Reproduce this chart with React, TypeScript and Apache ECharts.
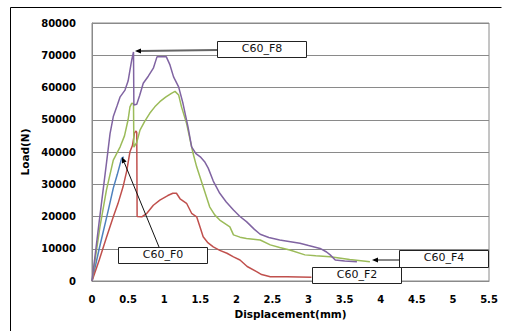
import React, { useEffect, useRef } from "react";
import * as echarts from "echarts";

const xTicks = [0, 0.5, 1, 1.5, 2, 2.5, 3, 3.5, 4, 4.5, 5, 5.5];
const yTicks = [0, 10000, 20000, 30000, 40000, 50000, 60000, 70000, 80000];

const seriesNames = ["C60_F0", "C60_F2", "C60_F4", "C60_F8"];
const seriesColors = ["#4F81BD", "#C0504D", "#9BBB59", "#8064A2"];

const f0: number[][] = [
  [0, 0], [0.1, 10000], [0.2, 19500], [0.226, 22000], [0.295, 28800], [0.35, 33000], [0.41, 38000], [0.44, 38500],
];

const f2: number[][] = [
  [0, 0], [0.1, 6500], [0.2, 13500], [0.295, 19900], [0.36, 24000], [0.43, 29200], [0.48, 34000], [0.526, 40100],
  [0.56, 42000], [0.59, 46000], [0.61, 46500], [0.62, 46000], [0.625, 20000], [0.69, 19900], [0.76, 21000],
  [0.85, 23500], [0.94, 25100], [1.05, 26500], [1.12, 27200], [1.17, 27200], [1.22, 25500], [1.31, 24100],
  [1.38, 21000], [1.45, 19900], [1.5, 16500], [1.54, 13700], [1.6, 12000], [1.68, 10600], [1.77, 9500],
  [1.87, 8600], [1.96, 7500], [2.05, 6500], [2.15, 4500], [2.28, 2900], [2.35, 2000], [2.47, 1300], [2.7, 1300],
  [3.04, 1200],
];

const f4: number[][] = [
  [0, 0], [0.11, 16800], [0.2, 28200], [0.295, 37500], [0.39, 41600], [0.45, 45000], [0.5, 50000], [0.526, 54000],
  [0.55, 55100], [0.575, 55000], [0.58, 41500], [0.62, 43000], [0.665, 46800], [0.73, 49500], [0.8, 52000],
  [0.87, 54000], [0.94, 55600], [1.02, 57000], [1.1, 58200], [1.15, 58800], [1.2, 57700], [1.24, 54000],
  [1.31, 48900], [1.36, 43700], [1.4, 39600], [1.45, 35400], [1.54, 29200], [1.63, 23000], [1.7, 20500],
  [1.77, 18900], [1.91, 16800], [1.96, 14300], [2.05, 13600], [2.14, 13200], [2.33, 12700], [2.47, 11200],
  [2.6, 10400], [2.74, 9600], [2.95, 8100], [3.1, 7800], [3.3, 7500], [3.57, 6700], [3.85, 6000],
];

const f8: number[][] = [
  [0, 0], [0.1, 18500], [0.2, 36500], [0.25, 45700], [0.295, 51000], [0.35, 54500], [0.39, 57100], [0.457, 59200],
  [0.5, 62000], [0.526, 65400], [0.55, 68500], [0.575, 71000], [0.58, 54600], [0.62, 54800], [0.66, 57500],
  [0.71, 61300], [0.78, 63500], [0.85, 66000], [0.9, 69500], [1.03, 69500], [1.08, 67000], [1.13, 63300],
  [1.2, 60200], [1.26, 55100], [1.33, 47800], [1.38, 41600], [1.44, 39500], [1.5, 38500], [1.56, 37000],
  [1.61, 35000], [1.68, 31000], [1.77, 27200], [1.86, 24500], [1.96, 22000], [2.05, 20000], [2.14, 18400],
  [2.25, 16000], [2.33, 14500], [2.45, 13500], [2.6, 12700], [2.75, 12200], [2.88, 11700], [3.0, 11000],
  [3.16, 10100], [3.25, 9000], [3.3, 8100], [3.37, 6500], [3.5, 6200], [3.67, 6000],
];

const seriesData = [f0, f2, f4, f8];

const xTitle = "Displacement(mm)";
const yTitle = "Load(N)";

export default function App() {
  const ref = useRef<HTMLDivElement>(null);
  useEffect(() => {
    if (!ref.current) return;
    const chart = echarts.init(ref.current, null, { renderer: "svg" });
    const labelFont = { fontFamily: "DejaVu Sans", fontWeight: "bold" as const, fontSize: 10, color: "#000" };

    const box = (x: number, y: number, w: number, h: number, text: string) => ({
      type: "group",
      z: 100,
      children: [
        { type: "rect", z: 100, shape: { x, y, width: w, height: h }, style: { fill: "#fff", stroke: "#222", lineWidth: 1 } },
        {
          type: "text",
          z: 101,
          x: x + w / 2,
          y: y + h / 2 - 1.5,
          style: { text, fill: "#111", font: "11px 'DejaVu Sans'", align: "center", verticalAlign: "middle" },
        },
      ],
    });
    const arrow = (x1: number, y1: number, x2: number, y2: number, color: string, lw: number) => {
      const ang = Math.atan2(y2 - y1, x2 - x1);
      const L = 6, W = 2.5;
      const bx = x2 - L * Math.cos(ang), by = y2 - L * Math.sin(ang);
      const px = -Math.sin(ang) * W, py = Math.cos(ang) * W;
      return [
        { type: "line", z: 99, shape: { x1, y1, x2: bx, y2: by }, style: { stroke: color, lineWidth: lw } },
        {
          type: "polygon",
          z: 99,
          shape: { points: [[x2, y2], [bx + px, by + py], [bx - px, by - py]] },
          style: { fill: "#000" },
        },
      ];
    };

    chart.setOption({
      animation: false,
      grid: { left: 92, top: 23, right: 16, bottom: 50, show: true, borderColor: "#8a8a8a", borderWidth: 1 },
      xAxis: {
        type: "value",
        min: xTicks[0],
        max: xTicks[xTicks.length - 1],
        interval: 0.5,
        name: xTitle,
        nameLocation: "middle",
        nameGap: 27,
        nameTextStyle: { ...labelFont, fontSize: 10.5 },
        axisLine: { show: true, lineStyle: { color: "#8a8a8a" } },
        axisTick: { show: false },
        splitLine: { show: false },
        axisLabel: { ...labelFont, margin: 13, formatter: (v: number) => String(v) },
      },
      yAxis: {
        type: "value",
        min: yTicks[0],
        max: yTicks[yTicks.length - 1],
        interval: 10000,
        name: yTitle,
        nameLocation: "middle",
        nameGap: 59,
        nameRotate: 90,
        nameTextStyle: { ...labelFont, fontSize: 10.5 },
        axisLine: { show: true, lineStyle: { color: "#8a8a8a" } },
        axisTick: { show: false },
        splitLine: { show: true, lineStyle: { color: "#8a8a8a", width: 1 } },
        axisLabel: { ...labelFont, margin: 16, formatter: (v: number) => String(v) },
      },
      series: seriesData.map((d, i) => ({
        name: seriesNames[i],
        type: "line",
        data: d,
        showSymbol: false,
        symbol: "none",
        lineStyle: { color: seriesColors[i], width: 1.5 },
        itemStyle: { color: seriesColors[i] },
        z: 2 + i,
      })),
      graphic: [
        { type: "polyline", shape: { points: [[10.5, 340], [10.5, 7.5], [501.5, 7.5]] }, style: { stroke: "#000", lineWidth: 1, fill: "none" }, silent: true },
        ...arrow(217, 50, 135, 51, "#666", 2),
        ...arrow(159, 247, 122, 157, "#111", 1),
        ...arrow(399, 260, 372, 260, "#111", 1),
        box(217.5, 41.5, 89, 16, seriesNames[3]),
        box(118.5, 247.5, 89, 16, seriesNames[0]),
        box(399.5, 250.5, 89, 17, seriesNames[2]),
        box(312.5, 267.5, 89, 16, seriesNames[1]),
      ],
    });
    return () => chart.dispose();
  }, []);
  return (
    <div
      ref={ref}
      style={{ position: "fixed", left: 0, top: 0, width: 505, height: 331, background: "#fff" }}
    />
  );
}
